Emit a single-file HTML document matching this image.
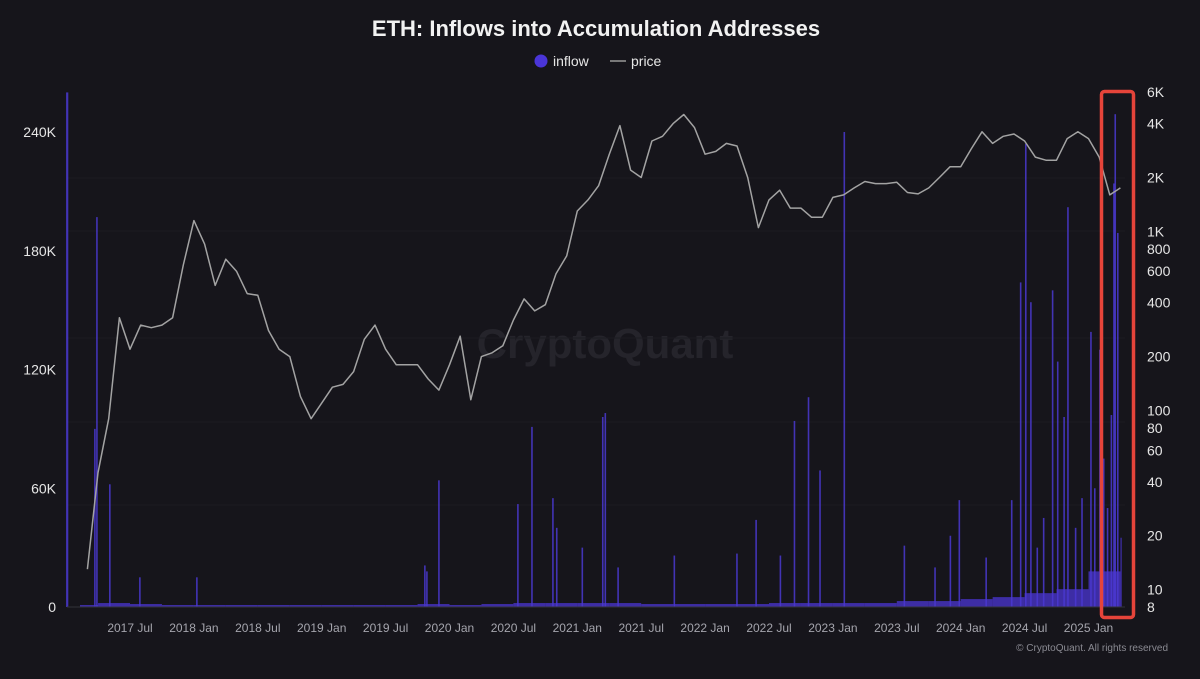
<!DOCTYPE html>
<html><head><meta charset="utf-8">
<style>
html,body{margin:0;padding:0;background:#16151b;}
body{width:1200px;height:674px;overflow:hidden;font-family:"Liberation Sans",sans-serif;}
</style></head>
<body>
<svg id="chart" width="1200" height="674" viewBox="0 0 1200 674" xmlns="http://www.w3.org/2000/svg">
<rect x="0" y="0" width="1200" height="674" fill="#16151b"/>
<text x="596" y="36" text-anchor="middle" fill="#f2f2f2" font-size="22" font-weight="bold">ETH: Inflows into Accumulation Addresses</text>
<g>
<g><circle cx="541" cy="61" r="6.5" fill="#4a35d8"/><text x="553" y="66" fill="#e6e6e6" font-size="14">inflow</text></g>
<g><line x1="610" y1="61" x2="626" y2="61" stroke="#999" stroke-width="1.5"/><text x="631" y="66" fill="#e6e6e6" font-size="14">price</text></g>
</g>
<text x="605" y="358" text-anchor="middle" fill="#25242b" font-size="42" font-weight="bold">CryptoQuant</text>
<g id="grid"></g>
<g id="bars"></g>
<path id="priceLine" fill="none" stroke="#a3a3a3" stroke-width="1.5" stroke-linejoin="round"/>
<line x1="67" y1="607" x2="1125" y2="607" stroke="#33323a" stroke-width="1"/>
<g id="leftTicks"></g>
<g id="rightTicks"></g>
<g id="xTicks"></g>
<rect x="1101.5" y="91.5" width="32" height="526" rx="3" fill="none" stroke="#e5443a" stroke-width="3.5"/>
<text x="1168" y="651" text-anchor="end" fill="#8a8a92" font-size="10">© CryptoQuant. All rights reserved</text>
</svg>
<script>
const leftTickValues = [0, 60, 120, 180, 240];
const leftTickLabels = ["0", "60K", "120K", "180K", "240K"];
const rightTickValues = [8, 10, 20, 40, 60, 80, 100, 200, 400, 600, 800, 1000, 2000, 4000, 6000];
const rightTickLabels = ["8", "10", "20", "40", "60", "80", "100", "200", "400", "600", "800", "1K", "2K", "4K", "6K"];
const xTickYears = [2017.5, 2018, 2018.5, 2019, 2019.5, 2020, 2020.5, 2021, 2021.5, 2022, 2022.5, 2023, 2023.5, 2024, 2024.5, 2025];
const xTickLabels = ["2017 Jul","2018 Jan","2018 Jul","2019 Jan","2019 Jul","2020 Jan","2020 Jul","2021 Jan","2021 Jul","2022 Jan","2022 Jul","2023 Jan","2023 Jul","2024 Jan","2024 Jul","2025 Jan"];
// monthly ETH price from 2017 Mar
const priceStart = 2017 + 2/12;
const priceValues = [
 13, 45, 90, 330, 220, 300, 290, 300, 330, 650,
 1150, 850, 500, 700, 600, 450, 440, 280, 220, 200, 120, 90,
 110, 135, 140, 165, 250, 300, 220, 180, 180, 180, 150, 130,
 180, 260, 115, 200, 210, 230, 320, 420, 360, 390, 580, 730,
 1300, 1500, 1800, 2700, 3900, 2200, 2000, 3200, 3400, 4000, 4500, 3800,
 2700, 2800, 3100, 3000, 2000, 1050, 1500, 1700, 1350, 1350, 1200, 1200,
 1550, 1600, 1750, 1900, 1850, 1850, 1880, 1650, 1620, 1750, 2000, 2300,
 2300, 2900, 3600, 3100, 3400, 3500, 3200, 2600, 2500, 2500, 3300, 3600,
 3300, 2600, 1600, 1750
];
// spikes: decimal year and value (K)
const spikeYears = [2017.007,2017.226,2017.242,2017.343,2017.578,2018.024,2019.808,2019.824,2019.918,2020.536,2020.646,2020.81,2020.84,2021.04,2021.20,2021.22,2021.32,2021.76,2022.25,2022.40,2022.59,2022.70,2022.81,2022.90,2023.09,2023.56,2023.80,2023.92,2023.99,2024.20,2024.40,2024.47,2024.51,2024.55,2024.60,2024.65,2024.72,2024.76,2024.81,2024.84,2024.90,2024.95,2025.02,2025.05,2025.09,2025.12,2025.15,2025.18,2025.20,2025.21,2025.23];
const spikeValues = [260,90,197,62,15,15,21,18,64,52,91,55,40,30,96,98,20,26,27,44,26,94,106,69,240,31,20,36,54,25,54,164,234,154,30,45,160,124,96,202,40,55,139,60,130,75,50,97,214,249,189];
// typical base inflow level per quarter from 2017 Q1 (K)
const baseStart = 2017.0;
const baseValues = [1,2,1.5,1, 1,1,1,1, 1,1,1,1.5, 1,1.5,2,2, 2,2,1.5,1.5, 1.5,1.5,2,2, 2,2,3,3, 4,5,7,9, 18, 35];

const NS = "http://www.w3.org/2000/svg";
const X = yr => 130 + (yr - 2017.5) * 127.8;
const YL = k => 607 - k * (475 / 240);
const YR = v => 607 - (Math.log10(v) - Math.log10(8)) * 179.1;
function mk(tag, attrs, parent){ const e=document.createElementNS(NS,tag); for(const k in attrs) e.setAttribute(k,attrs[k]); parent.appendChild(e); return e; }

const grid = document.getElementById('grid');
[178, 231, 338, 422, 505].forEach(y=>{
  const l = mk('line',{x1:67,x2:1125,y1:y,y2:y,stroke:'#1c1b22','stroke-width':1},grid);
  
  
});

const lt = document.getElementById('leftTicks');
leftTickValues.forEach((v,i)=>{
  const t = mk('text',{x:56,y:YL(v)+5,'text-anchor':'end',fill:'#e6e6e6','font-size':14},lt);
  t.textContent = leftTickLabels[i];
  
  
});
const rt = document.getElementById('rightTicks');
rightTickValues.forEach((v,i)=>{
  const t = mk('text',{x:1147,y:YR(v)+5,fill:'#e6e6e6','font-size':14},rt);
  t.textContent = rightTickLabels[i];
  
  
});
const xt = document.getElementById('xTicks');
xTickYears.forEach((yr,i)=>{
  const t = mk('text',{x:X(yr),y:632,'text-anchor':'middle',fill:'#a5a5ad','font-size':12},xt);
  t.textContent = xTickLabels[i];
  
  
});

const bars = document.getElementById('bars');
baseValues.forEach((v,i)=>{
  const y0 = baseStart + i*0.25;
  const y1 = Math.min(y0 + 0.25, 2025.26);
  if (y0 >= 2025.26) return;
  const x0 = Math.max(X(y0), 80);
  const r = mk('rect',{x:x0,y:YL(v),width:X(y1)-x0,height:607-YL(v),fill:'#4f38e0',opacity:0.7},bars);
  
  
});
spikeYears.forEach((yr,i)=>{
  const v = spikeValues[i];
  const r = mk('rect',{x:X(yr)-0.9,y:YL(v),width:yr<2017.05?2.2:1.6,height:607-YL(v),fill:'#4a38d0',opacity:0.85},bars);
  
  
});

let d = '';
priceValues.forEach((v,i)=>{
  const yr = priceStart + i/12;
  d += (i?'L':'M') + X(yr).toFixed(1) + ',' + YR(v).toFixed(1);
});
document.getElementById('priceLine').setAttribute('d', d);
</script>
</body></html>
